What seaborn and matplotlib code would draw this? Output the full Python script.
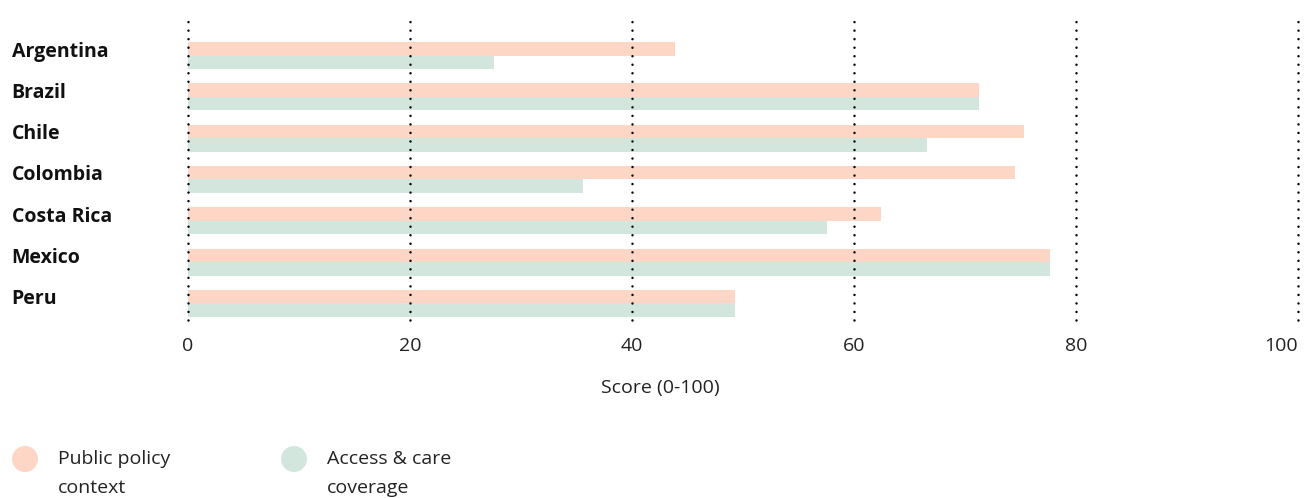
import matplotlib
matplotlib.use("Agg")
import matplotlib.pyplot as plt
import matplotlib.transforms as mtransforms
from matplotlib.patches import Circle
import pandas as pd
import seaborn as sns

countries = ["Argentina", "Brazil", "Chile", "Colombia", "Costa Rica", "Mexico", "Peru"]
public_policy = [43.9, 71.3, 75.3, 74.5, 62.4, 77.7, 49.3]
access_care = [27.6, 71.3, 66.6, 35.6, 57.6, 77.7, 49.3]
series_names = ["Public policy context", "Access & care coverage"]
legend_labels = ["Public policy\ncontext", "Access & care\ncoverage"]
x_ticks = [0, 20, 40, 60, 80, 100]
x_title = "Score (0-100)"

colors = ["#FED6C6", "#D3E6DD"]

df = pd.DataFrame({
    "country": countries * 2,
    "score": public_policy + access_care,
    "series": [series_names[0]] * len(countries) + [series_names[1]] * len(countries),
})

sns.set_theme(style="white")
plt.rcParams["font.family"] = ["Open Sans", "DejaVu Sans"]

FS = 14
W, H = 1309, 498
fig = plt.figure(figsize=(W / 100, H / 100), dpi=100)
ax_left, ax_right, ax_top, ax_bottom = 188, 1298, 15, 320
ax = fig.add_axes([ax_left / W, 1 - ax_bottom / H, (ax_right - ax_left) / W, (ax_bottom - ax_top) / H])

sns.barplot(data=df, y="country", x="score", hue="series", orient="h",
            palette=colors, width=0.654, dodge=True, ax=ax,
            linewidth=0, saturation=1, legend=False, zorder=1)

ax.set_xlim(0, 100)
ax.set_ylim(6.40, -0.98)

# dotted vertical grid drawn over the bars
for t in x_ticks:
    ax.axvline(t, color="black", linewidth=1.8, linestyle=(0, (0.01, 3.4)),
               dash_capstyle="round", zorder=5, clip_on=False)

for s in ax.spines.values():
    s.set_visible(False)

ax.set_xticks(x_ticks)
ax.set_xticklabels([str(t) for t in x_ticks], fontsize=FS, color="#222222")
last = ax.get_xticklabels()[-1]
last.set_horizontalalignment("right")
last.set_transform(last.get_transform()
                   + mtransforms.ScaledTranslation(10 / 100, 0, fig.dpi_scale_trans))
ax.tick_params(axis="x", length=0, pad=12)
ax.tick_params(axis="y", length=0, pad=127)
ax.set_yticks(range(len(countries)))
ax.set_yticklabels(countries, fontsize=FS, fontweight="bold", color="#111111", ha="left")
shift = mtransforms.ScaledTranslation(0, 6.5 / 100, fig.dpi_scale_trans)
for lab in ax.get_yticklabels():
    lab.set_transform(lab.get_transform() + shift)

ax.set_xlabel("")
ax.set_ylabel("")
fig.text(660 / W, 1 - 388 / H, x_title, fontsize=FS, color="#222222", ha="center", va="center")

# legend: colour dots with wrapped series names
for (cx, tx), col, lab in zip([(25, 58), (294, 327)], colors, legend_labels):
    fig.patches.append(Circle((cx / 100, (H - 459) / 100), 0.13, transform=fig.dpi_scale_trans,
                              facecolor=col, edgecolor="none"))
    fig.text(tx / W, 1 - 450 / H, lab, fontsize=FS, color="#222222", ha="left", va="top",
             linespacing=1.75)

fig.savefig("out.png", dpi=100)
